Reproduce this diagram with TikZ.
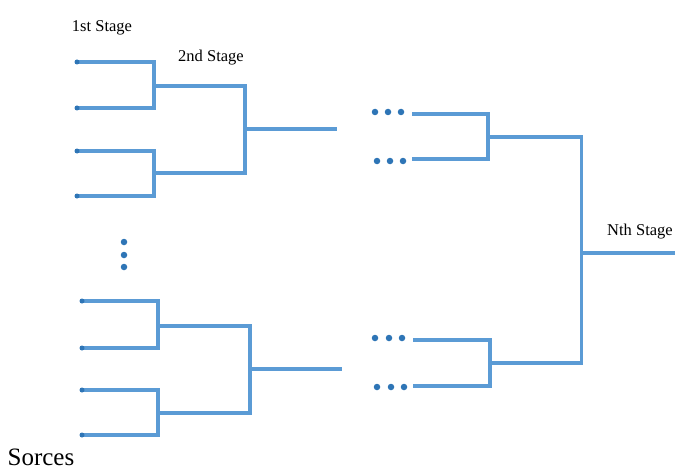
\documentclass[tikz,border=0pt]{standalone}
\usepackage{fontspec}
\setmainfont{Liberation Serif}
\definecolor{wireblue}{HTML}{5B9BD5}
\definecolor{dotblue}{HTML}{2E75B6}
\begin{document}
\begin{tikzpicture}[x=1pt,y=-1pt,
  wire/.style={draw=wireblue,line width=3.2pt},
  leaf/.style={circle,fill=dotblue,inner sep=0pt,minimum size=5pt},
  edot/.style={circle,fill=dotblue,inner sep=0pt,minimum size=6.5pt},
  lbl/.style={font=\fontsize{16.5}{19}\selectfont,inner sep=0pt}]
\useasboundingbox[fill=white] (0,0) rectangle (693,476);

% labels
\node[lbl] (l1) at (102,28) {1st Stage};
\node[lbl] (l2) at (211,58) {2nd Stage};
\node[lbl] (ln) at (640,232) {Nth Stage};
\node[font=\fontsize{25}{28}\selectfont,inner sep=0pt] (ls) at (41,457) {Sorces};

% top group
\coordinate (a1) at (77,62);
\coordinate (a2) at (77,108);
\coordinate (a3) at (77,151);
\coordinate (a4) at (77,196);
\coordinate (j1) at (154,86);
\coordinate (j2) at (154,173);
\coordinate (k1) at (245,129);
\coordinate (o1) at (337,129);
\draw[wire] (a1) -| (j1) |- (a2);
\draw[wire] (a3) -| (j2) |- (a4);
\draw[wire] (j1) -| (k1) |- (j2);
\draw[wire] (k1) -- (o1);
\foreach \p in {a1,a2,a3,a4} \node[leaf] at (\p) {};

% vertical ellipsis
\node[edot] (v1) at (124,242) {};
\node[edot] (v2) at (124,255) {};
\node[edot] (v3) at (124,267) {};

% bottom group
\coordinate (b1) at (82,301);
\coordinate (b2) at (82,348);
\coordinate (b3) at (82,390);
\coordinate (b4) at (82,435);
\coordinate (j3) at (158,326);
\coordinate (j4) at (158,413);
\coordinate (k2) at (250,369);
\coordinate (o2) at (342,369);
\draw[wire] (b1) -| (j3) |- (b2);
\draw[wire] (b3) -| (j4) |- (b4);
\draw[wire] (j3) -| (k2) |- (j4);
\draw[wire] (k2) -- (o2);
\foreach \p in {b1,b2,b3,b4} \node[leaf] at (\p) {};

% horizontal ellipses
\foreach \x/\y in {375/112,388/112,401/112,377/161,390/161,403/161,
                   375/338,389/338,402/338,377/387,391/387,404/387}
  \node[edot] at (\x,\y) {};

% right part
\coordinate (r1) at (412,114);
\coordinate (r2) at (412,159);
\coordinate (r3) at (413,340);
\coordinate (r4) at (413,386);
\coordinate (m1) at (488,137);
\coordinate (m2) at (490,363);
\coordinate (n1) at (581.5,137);
\coordinate (n2) at (581.5,363);
\coordinate (nm) at (581.5,253);
\coordinate (out) at (675,253);
\draw[wire] (r1) -| (m1) |- (r2);
\draw[wire] (r3) -| (m2) |- (r4);
\draw[wire] (m1) -- (n1) -- (n2) -- (m2);
\draw[wire] (nm) -- (out);
\end{tikzpicture}
\end{document}
